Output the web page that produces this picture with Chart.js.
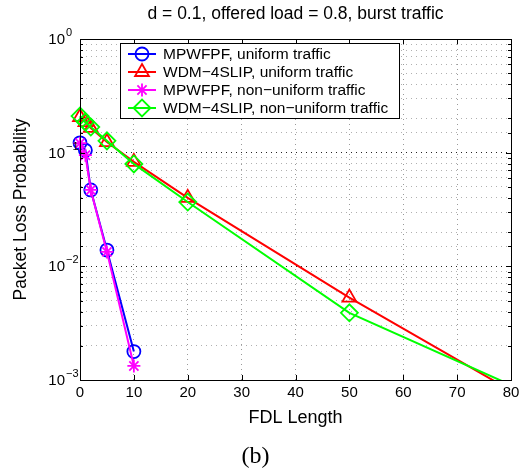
<!DOCTYPE html>
<html>
<head>
<meta charset="utf-8">
<script src="https://cdn.jsdelivr.net/npm/chart.js@4.4.1/dist/chart.umd.min.js"></script>
<style>
  html, body { margin: 0; padding: 0; background: #fff; }
  canvas { display: block; }
</style>
</head>
<body>
<canvas id="lossChart" width="526" height="476"></canvas>
<script>
// values (packet loss probability vs FDL length)
const fdlShort = [0, 1, 2, 5, 10];
const fdlLong = [0, 1, 2, 5, 10, 20, 50, 100];

const mpwfpfUniform    = [0.122, 0.105, 0.047, 0.0139, 0.00178];
const wdmUniform       = [0.206, 0.186, 0.165, 0.124, 0.083, 0.040, 0.0053, 0.00023];
const mpwfpfNonUniform = [0.121, 0.095, 0.047, 0.0134, 0.00133];
const wdmNonUniform    = [0.210, 0.186, 0.168, 0.127, 0.0796, 0.0368, 0.0039, 0.00034];

const seriesNames = [
  'MPWFPF, uniform traffic',
  'WDM\u22124SLIP, uniform traffic',
  'MPWFPF, non\u2212uniform traffic',
  'WDM\u22124SLIP, non\u2212uniform traffic'
];

const xTicks = [0, 10, 20, 30, 40, 50, 60, 70, 80];
const yDecades = [1, 0.1, 0.01, 0.001];
const yExponents = ['0', '\u22121', '\u22122', '\u22123'];

const FONT = '"Liberation Sans", Arial, Helvetica, sans-serif';

function toPoints(xs, ys) {
  return ys.map((y, i) => ({x: xs[i], y: y}));
}

function isDecade(v) {
  const l = Math.log10(v);
  return Math.abs(l - Math.round(l)) < 1e-6;
}

// y tick labels as 10 with a raised exponent
const decadeLabels = {
  id: 'decadeLabels',
  afterDraw(chart) {
    const ctx = chart.ctx;
    const ys = chart.scales.y;
    ctx.save();
    ctx.fillStyle = '#000';
    ctx.textBaseline = 'middle';
    yDecades.forEach((v, i) => {
      const py = ys.getPixelForValue(v);
      ctx.font = '15px ' + FONT;
      ctx.textAlign = 'right';
      ctx.fillText('10', 65, py + 1);
      ctx.font = '11px ' + FONT;
      ctx.textAlign = 'left';
      ctx.fillText(yExponents[i], 66, py - 6);
    });
    ctx.restore();
  }
};

// box round the axes, inward tick marks, and the legend inside the plot
const frameAndLegend = {
  id: 'frameAndLegend',
  afterDatasetsDraw(chart) {
    const ctx = chart.ctx;
    const a = chart.chartArea;
    const xs = chart.scales.x, ys = chart.scales.y;
    ctx.save();
    ctx.strokeStyle = '#000';
    ctx.lineWidth = 1;
    ctx.beginPath();
    xTicks.forEach(v => {
      const px = Math.round(xs.getPixelForValue(v)) + 0.5;
      ctx.moveTo(px, a.bottom); ctx.lineTo(px, a.bottom - 5);
      ctx.moveTo(px, a.top); ctx.lineTo(px, a.top + 5);
    });
    ys.ticks.forEach(t => {
      const py = Math.round(ys.getPixelForValue(t.value)) + 0.5;
      const len = isDecade(t.value) ? 5 : 3;
      ctx.moveTo(a.left, py); ctx.lineTo(a.left + len, py);
      ctx.moveTo(a.right, py); ctx.lineTo(a.right - len, py);
    });
    ctx.stroke();
    ctx.strokeRect(Math.round(a.left) + 0.5, Math.round(a.top) + 0.5,
                   Math.round(a.right - a.left), Math.round(a.bottom - a.top));

    // legend
    const lx = 120.5, ly = 43.5, lw = 279, lh = 75;
    ctx.fillStyle = '#fff';
    ctx.fillRect(lx, ly, lw, lh);
    ctx.strokeRect(lx, ly, lw, lh);
    ctx.font = '15.5px ' + FONT;
    ctx.textBaseline = 'middle';
    ctx.textAlign = 'left';
    chart.data.datasets.forEach((ds, i) => {
      const ry = 54 + i * 18;
      ctx.strokeStyle = ds.borderColor;
      ctx.lineWidth = 2;
      ctx.beginPath();
      ctx.moveTo(128, ry); ctx.lineTo(156, ry);
      ctx.stroke();
      ctx.lineWidth = ds.pointBorderWidth;
      ctx.fillStyle = 'rgba(0,0,0,0)';
      Chart.helpers.drawPoint(ctx, {
        pointStyle: ds.pointStyle, radius: ds.pointRadius, rotation: 0,
        borderWidth: ds.pointBorderWidth
      }, 142, ry);
      ctx.fillStyle = '#000';
      ctx.fillText(seriesNames[i], 163, ry + 1);
    });
    ctx.restore();
  }
};

function series(label, xs, ys, color, style, radius, order) {
  return {
    label: label,
    data: toPoints(xs, ys),
    borderColor: color,
    backgroundColor: 'rgba(0,0,0,0)',
    borderWidth: 2,
    pointStyle: style,
    pointRadius: radius,
    pointHoverRadius: radius,
    pointBorderColor: color,
    pointBackgroundColor: 'rgba(0,0,0,0)',
    pointBorderWidth: 1.8,
    showLine: true,
    tension: 0,
    order: order,
    clip: {left: 12, top: 12, right: 12, bottom: 0}
  };
}

const ctx = document.getElementById('lossChart').getContext('2d');
const lossChart = new Chart(ctx, {
  type: 'scatter',
  data: {
    datasets: [
      series(seriesNames[0], fdlShort, mpwfpfUniform, '#0000ff', 'circle', 6.5, 3),
      series(seriesNames[1], fdlLong, wdmUniform, '#ff0000', 'triangle', 8, 2),
      series(seriesNames[2], fdlShort, mpwfpfNonUniform, '#ff00ff', 'star', 6.5, 1),
      series(seriesNames[3], fdlLong, wdmNonUniform, '#00ff00', 'rectRot', 8.5, 0)
    ]
  },
  options: {
    responsive: false,
    animation: false,
    layout: { padding: { left: 0, right: 15, top: 0, bottom: 0 } },
    plugins: {
      legend: { display: false },
      tooltip: { enabled: false },
      title: {
        display: true,
        text: 'd = 0.1, offered load = 0.8, burst traffic',
        fullSize: false,
        color: '#000',
        font: { family: FONT, size: 17.5, weight: 'normal' },
        padding: { top: 3.5, bottom: 14.5 }
      },
      subtitle: {
        display: true,
        position: 'bottom',
        text: '(b)',
        color: '#000',
        font: { family: '"Liberation Serif", "Times New Roman", serif', size: 24, weight: 'normal' },
        padding: { top: 10.6, bottom: 4.6 }
      }
    },
    scales: {
      x: {
        type: 'linear',
        min: 0,
        max: 80,
        afterFit(s) { s.height = 52; },
        afterBuildTicks(s) { s.ticks = xTicks.map(v => ({value: v})); },
        ticks: { color: '#000', padding: 4, font: { family: FONT, size: 15 } },
        grid: { color: '#9a9a9a', drawTicks: false, lineWidth: 1 },
        border: { display: true, color: '#000', width: 1, dash: [1, 4] },
        title: {
          display: true,
          text: 'FDL Length',
          color: '#000',
          font: { family: FONT, size: 18 },
          padding: { top: 0, bottom: 2.7 }
        }
      },
      y: {
        type: 'logarithmic',
        min: 0.001,
        max: 1,
        afterFit(s) { s.width = 80; },
        ticks: { display: false },
        grid: {
          drawTicks: false,
          lineWidth: 1,
          color: c => (c.tick && isDecade(c.tick.value)) ? '#222' : '#b0b0b0'
        },
        border: { display: true, color: '#000', width: 1, dash: [1, 4] },
        title: {
          display: true,
          text: 'Packet Loss Probability',
          color: '#000',
          font: { family: FONT, size: 17.5 },
          padding: { top: 11, bottom: 0 }
        }
      }
    }
  },
  plugins: [decadeLabels, frameAndLegend]
});
</script>
</body>
</html>
